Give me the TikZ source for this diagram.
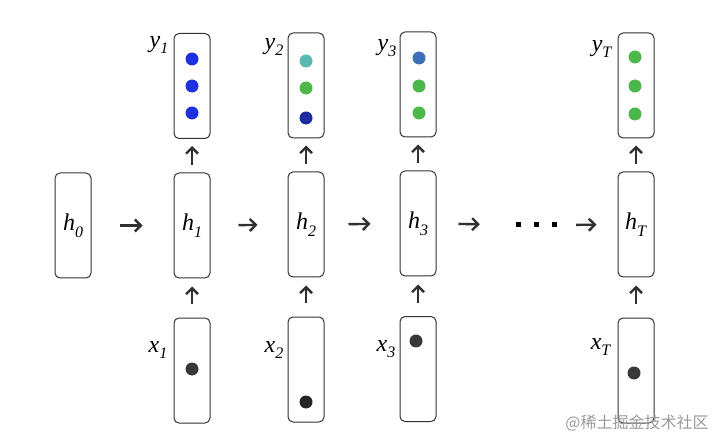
\documentclass[tikz,border=0pt]{standalone}
\usepackage{fontspec}
\setmainfont{Liberation Serif}
\newfontfamily\cjkfont{Noto Sans CJK SC}
\usetikzlibrary{arrows.meta}
\newcommand{\lab}[2]{\textit{#1}\raisebox{-0.28em}{\fontsize{16}{16}\selectfont\textit{#2}}}
\definecolor{bblue}{HTML}{1E30E0}
\definecolor{dblue}{HTML}{1C2C9E}
\definecolor{teal2}{HTML}{5CB8B2}
\definecolor{green2}{HTML}{4DB84A}
\definecolor{sblue}{HTML}{3C6FB8}
\definecolor{ink}{HTML}{303030}
\begin{document}
\begin{tikzpicture}[x=1pt,y=-1pt,
  cell/.style={draw=black!80, line width=1pt, rounded corners=5pt, minimum width=36pt, minimum height=105pt, inner sep=0pt},
  lbl/.style={font=\fontsize{24}{24}\selectfont, inner sep=0pt},
  arr/.style={draw=ink, line width=2.4pt, -{Straight Barb[length=6pt,width=12pt]}},
  dotc/.style={circle, inner sep=0pt, minimum size=13pt},
  sq/.style={fill=black, minimum size=5pt, inner sep=0pt}
]
\useasboundingbox (0,0) rectangle (720,446);

% hidden states
\node[cell, lbl] (h0) at (73,225.5) {\lab{h}{0}};
\node[cell, lbl] (h1) at (192,225.5) {\lab{h}{1}};
\node[cell, lbl] (h2) at (306,224.5) {\lab{h}{2}};
\node[cell, lbl] (h3) at (418,223.5) {\lab{h}{3}};
\node[cell, lbl] (hT) at (636,224.5) {\lab{h}{T}};

% outputs
\node[cell] (y1) at (192,86) {};
\node[cell] (y2) at (306,85.5) {};
\node[cell] (y3) at (418,84.5) {};
\node[cell] (yT) at (636,85.5) {};

% inputs
\node[cell] (x1) at (192,370.5) {};
\node[cell] (x2) at (306,369.5) {};
\node[cell] (x3) at (418,369) {};
\node[cell] (xT) at (636,370.5) {};

% labels
\node[lbl] (ly1) at (159,45) {\lab{y}{1}};
\node[lbl] (ly2) at (274,47) {\lab{y}{2}};
\node[lbl] (ly3) at (387,48) {\lab{y}{3}};
\node[lbl] (lyT) at (602,49) {\lab{y}{T}};
\node[lbl] (lx1) at (158,350) {\lab{x}{1}};
\node[lbl] (lx2) at (274,350) {\lab{x}{2}};
\node[lbl] (lx3) at (386,349) {\lab{x}{3}};
\node[lbl] (lxT) at (601,347) {\lab{x}{T}};

% output dots
\node[dotc, fill=bblue] (d11) at (192,59) {};
\node[dotc, fill=bblue] (d12) at (192,86) {};
\node[dotc, fill=bblue] (d13) at (192,113) {};
\node[dotc, fill=teal2] (d21) at (306,61) {};
\node[dotc, fill=green2] (d22) at (306,88) {};
\node[dotc, fill=dblue] (d23) at (306,118) {};
\node[dotc, fill=sblue] (d31) at (419,58) {};
\node[dotc, fill=green2] (d32) at (419,86) {};
\node[dotc, fill=green2] (d33) at (419,113) {};
\node[dotc, fill=green2] (dT1) at (635,57) {};
\node[dotc, fill=green2] (dT2) at (635,86) {};
\node[dotc, fill=green2] (dT3) at (635,114) {};

% input dots
\node[dotc, fill=black!78] (e1) at (192,369) {};
\node[dotc, fill=black!85] (e2) at (306,402) {};
\node[dotc, fill=black!78] (e3) at (416,341) {};
\node[dotc, fill=black!78] (eT) at (634,373) {};

% ellipsis
\node[inner sep=0pt, minimum width=40pt, minimum height=6pt] (dots) at (536,225) {};
\node[sq] (s1) at (518,225) {};
\node[sq] (s2) at (536,225) {};
\node[sq] (s3) at (554,225) {};

% horizontal arrows
\draw[arr, shorten <=28pt, shorten >=31pt] (h0) -- (h1);
\draw[arr, shorten <=28pt, shorten >=30pt] (h1.east) -- (h2.west);
\draw[arr, shorten <=24pt, shorten >=29pt] (h2.east) -- (h3.west);
\draw[arr, shorten <=22pt, shorten >=36pt] (h3.east) -- (dots.west);
\draw[arr, shorten <=20pt, shorten >=21pt] (dots.east) -- (hT.west);

% vertical arrows
\foreach \c in {1,2,3,T}{
  \draw[arr, shorten <=13pt, shorten >=8pt] (x\c) -- (h\c);
  \draw[arr, shorten <=7pt, shorten >=7pt] (h\c) -- (y\c);
}

% watermark
\node[font=\cjkfont\fontsize{16}{16}\selectfont, text=black!40, inner sep=0pt] (wm) at (637,423) {@稀土掘金技术社区};
\end{tikzpicture}
\end{document}
